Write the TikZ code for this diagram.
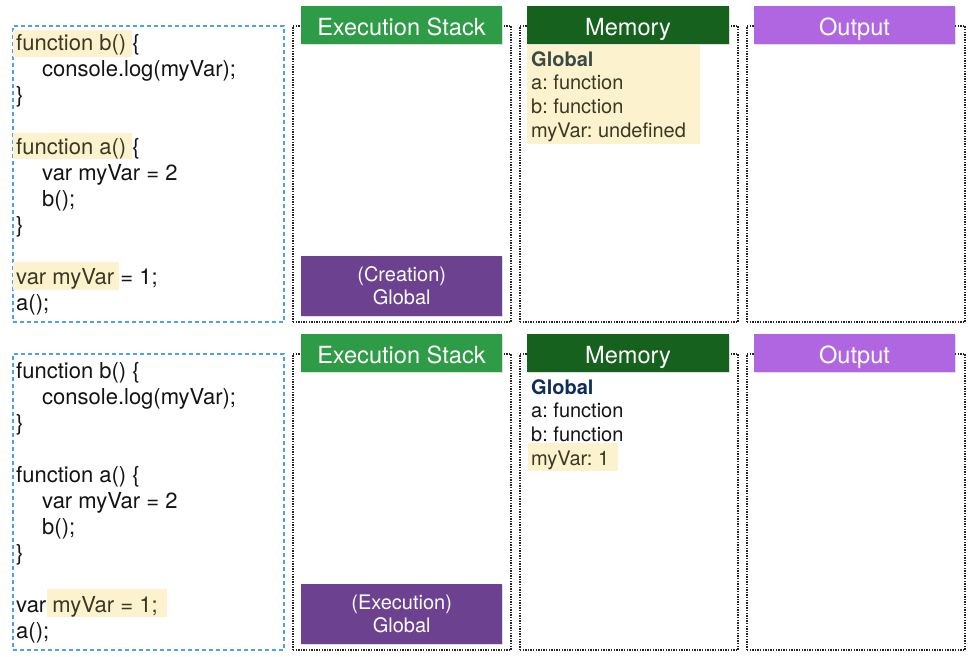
\documentclass[tikz,border=0pt]{standalone}
\usepackage{fontspec}
\setmainfont{TeX Gyre Heros}
\usetikzlibrary{shadows}
\definecolor{execgreen}{HTML}{2E9B46}
\definecolor{memgreen}{HTML}{15611D}
\definecolor{outpurple}{HTML}{B066E0}
\definecolor{stackpurple}{HTML}{6C4190}
\definecolor{hlfill}{HTML}{FCF3CE}
\definecolor{hltext}{HTML}{3A3824}
\definecolor{bluedash}{HTML}{4DA0EC}
\definecolor{slatetext}{HTML}{3A4A46}
\definecolor{navytext}{HTML}{0F2D5C}
\definecolor{codetext}{HTML}{141414}
\frenchspacing
\begin{document}
\begin{tikzpicture}[x=1pt,y=-1pt,
  panel/.style={draw=black!85, line width=2pt, dash pattern=on 1.4pt off 1.2pt,
    minimum width=218pt, minimum height=296pt, anchor=north west, inner sep=0pt},
  codebox/.style={draw=bluedash, line width=1.8pt, dash pattern=on 4pt off 3pt,
    minimum width=271pt, minimum height=296pt, anchor=north west, inner sep=0pt},
  header/.style={text=white, font=\fontsize{23.6}{26}\selectfont, inner sep=0pt,
    minimum width=201pt, minimum height=38pt, text height=20pt, text depth=0pt,
    drop shadow={opacity=0.25, shadow xshift=1pt, shadow yshift=-1.2pt}},
  stackbox/.style={fill=stackpurple, text=white, align=center, inner sep=0pt,
    font=\fontsize{20}{23}\selectfont, minimum width=201pt, minimum height=60pt,
    anchor=north west, drop shadow={opacity=0.25, shadow xshift=1pt, shadow yshift=-1.2pt}},
  hlbox/.style={fill=hlfill, inner sep=0pt, anchor=north west},
  code/.style={anchor=base west, inner sep=0pt, text=codetext, font=\fontsize{22}{26}\selectfont},
  mem/.style={anchor=base west, inner sep=0pt, font=\fontsize{20}{24}\selectfont},
]
\useasboundingbox[fill=white] (0,0) rectangle (968,656);

% ---------------- top row ----------------
\node[codebox] (codeA) at (12,25) {};
\node[panel] (stackA) at (292,25) {};
\node[panel] (memA) at (519,25) {};
\node[panel] (outA) at (746,25) {};

\node[header, fill=execgreen] (hstackA) at (401.5,25) {Execution Stack};
\node[header, fill=memgreen, minimum width=202pt] (hmemA) at (628,25) {Memory};
\node[header, fill=outpurple] (houtA) at (854.5,25) {Output};

\node[hlbox, minimum width=119pt, minimum height=27pt] (hlA1) at (13,30) {};
\node[hlbox, minimum width=119pt, minimum height=26pt] (hlA2) at (13,133) {};
\node[hlbox, minimum width=106pt, minimum height=28pt] (hlA3) at (13,262) {};

\node[code] (a1) at (16,50) {{\color{hltext}function b()} \{};
\node[code] (a2) at (42,76) {console.log(myVar);};
\node[code] (a3) at (16,102) {\}};
\node[code] (a5) at (16,154) {{\color{hltext}function a()} \{};
\node[code] (a6) at (42,180) {var myVar = 2};
\node[code] (a7) at (42,206) {b();};
\node[code] (a8) at (16,232) {\}};
\node[code] (a10) at (16,284) {{\color{hltext}var myVar} = 1;};
\node[code] (a11) at (16,310) {a();};

\node[stackbox] (gA) at (301,256) {(Creation)\\Global};

\node[hlbox, minimum width=173pt, minimum height=99pt] (memhlA) at (527,45) {};
\node[mem, text=slatetext, font=\fontsize{20}{24}\selectfont\bfseries] (mA0) at (531,66) {Global};
\node[mem, text=hltext] (mA1) at (531,89) {a: function};
\node[mem, text=hltext] (mA2) at (531,113) {b: function};
\node[mem, text=hltext] (mA3) at (531,137) {myVar: undefined};

% ---------------- bottom row ----------------
\node[codebox] (codeB) at (12,353) {};
\node[panel] (stackB) at (292,353) {};
\node[panel] (memB) at (519,353) {};
\node[panel] (outB) at (746,353) {};

\node[header, fill=execgreen] (hstackB) at (401.5,353) {Execution Stack};
\node[header, fill=memgreen, minimum width=202pt] (hmemB) at (628,353) {Memory};
\node[header, fill=outpurple] (houtB) at (854.5,353) {Output};

\node[hlbox, minimum width=120pt, minimum height=28pt] (hlB1) at (47,589) {};

\node[code] (b1) at (16,378) {function b() \{};
\node[code] (b2) at (42,404) {console.log(myVar);};
\node[code] (b3) at (16,430) {\}};
\node[code] (b5) at (16,482) {function a() \{};
\node[code] (b6) at (42,508) {var myVar = 2};
\node[code] (b7) at (42,534) {b();};
\node[code] (b8) at (16,560) {\}};
\node[code] (b10) at (16,612) {var {\color{hltext}myVar = 1;}};
\node[code] (b11) at (16,638) {a();};

\node[stackbox] (gB) at (301,584) {(Execution)\\Global};

\node[hlbox, minimum width=90pt, minimum height=28pt] (memhlB) at (528,443) {};
\node[mem, text=navytext, font=\fontsize{20}{24}\selectfont\bfseries] (mB0) at (531,394) {Global};
\node[mem, text=codetext] (mB1) at (531,417) {a: function};
\node[mem, text=codetext] (mB2) at (531,441) {b: function};
\node[mem, text=hltext] (mB3) at (531,465) {myVar: 1};
\end{tikzpicture}
\end{document}
